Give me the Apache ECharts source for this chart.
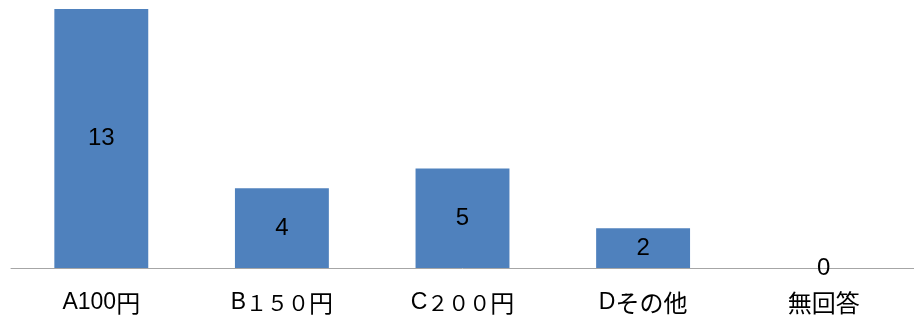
<!DOCTYPE html>
<html>
<head>
<meta charset="utf-8">
<script src="https://cdn.jsdelivr.net/npm/echarts@6/dist/echarts.min.js"></script>
<style>
  html, body { margin: 0; padding: 0; background: #fff; }
  #chart { width: 914px; height: 317px; }
</style>
</head>
<body>
<div id="chart"></div>
<script>
// answers and counts
const categories = ['A100円', 'B１５０円', 'C２００円', 'Dその他', '無回答'];
const counts = [13, 4, 5, 2, 0];

const chart = echarts.init(document.getElementById('chart'));

const latinFont = '"Liberation Sans", Arial, sans-serif';
const cjkFont = '"Noto Sans CJK JP", sans-serif';

// split a label into latin / full-width digit / cjk runs so each gets its own font
const splitLabel = (text) => {
    const runs = text.match(/[\x00-\x7f]+|[０-９]+|[^\x00-\x7f０-９]+/g) || [];
    return runs.map(r => {
        if (/^[\x00-\x7f]+$/.test(r)) return '{lat|' + r + '}';
        if (/^[０-９]+$/.test(r)) return '{fw|' + r + '}';
        return '{cjk|' + r + '}';
    }).join('');
};

chart.setOption({
    animation: false,
    grid: {
        left: 11,
        right: 0,
        top: 9,
        bottom: 49
    },
    xAxis: {
        type: 'category',
        data: categories,
        axisLine: { lineStyle: { color: '#a6a6a6', width: 1 } },
        axisTick: { show: false },
        axisLabel: {
            color: '#000',
            margin: 22,
            formatter: splitLabel,
            rich: {
                lat: { fontSize: 23, fontFamily: latinFont, color: '#000', lineHeight: 26 },
                fw: { fontSize: 21, fontFamily: cjkFont, color: '#000', lineHeight: 26 },
                cjk: { fontSize: 24, fontFamily: cjkFont, color: '#000', lineHeight: 26 }
            }
        }
    },
    yAxis: {
        type: 'value',
        min: 0,
        max: 13,
        show: false
    },
    series: [
        {
            type: 'bar',
            data: counts,
            barWidth: '52%',
            itemStyle: { color: '#4f81bd' },
            label: {
                show: true,
                position: 'inside',
                color: '#000',
                fontSize: 24,
                fontFamily: latinFont
            }
        }
    ]
});
</script>
</body>
</html>
